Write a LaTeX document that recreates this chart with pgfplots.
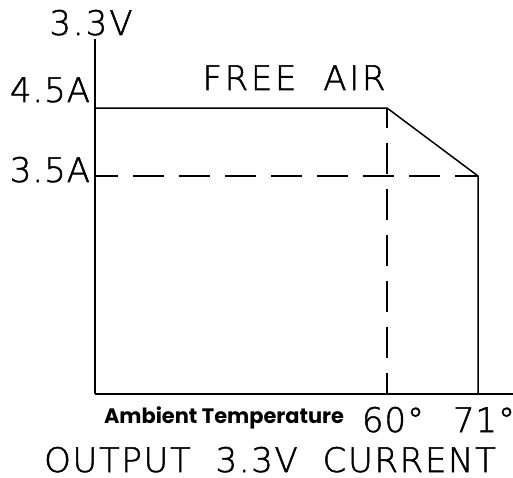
\documentclass[border=0pt]{standalone}
\usepackage{pgfplots}
\pgfplotsset{compat=1.18}
\usepackage{fontspec}
\setmainfont{DejaVu Sans}
\newfontfamily\cad[FakeBold=1.5]{DejaVu Sans ExtraLight}
\newfontfamily\pop{Poppins}
\newcommand\ls[1]{\addfontfeature{LetterSpace=#1}}
\begin{document}
\begin{tikzpicture}[x=1bp,y=1bp]
\path[use as bounding box] (0,0) rectangle (513,-478);
\begin{axis}[
  at={(95bp,-394bp)}, anchor=south west,
  scale only axis, width=418bp, height=355bp,
  xmin=24.703, xmax=75.231, ymin=0.294, ymax=5.515,
  axis x line=bottom, axis y line=left,
  axis line style={-, line width=1.5bp, black},
  xtick=\empty, ytick=\empty,
  clip=false,
]
\addplot[black, line width=1.5bp] coordinates {(24.703,4.5) (60,4.5) (71,3.5) (71,0.294)};
\addplot[black, line width=1.5bp, dash pattern=on 31bp off 15bp, dash phase=8bp] coordinates {(24.703,3.5) (71,3.5)};
\addplot[black, line width=1.5bp, dash pattern=on 31bp off 15bp, dash phase=11bp] coordinates {(60,4.5) (60,0.294)};
\end{axis}
\begin{scope}[every node/.style={inner sep=0pt, outer sep=0pt}]
\node[anchor=base] at (91,-35) {\fontsize{34}{34}\cad\ls{6}3.3V};
\node[anchor=base east] at (90,-102) {\fontsize{34}{34}\cad\ls{3}4.5A};
\node[anchor=base east] at (90,-182) {\fontsize{34}{34}\cad\ls{3}3.5A};
\node[anchor=base] at (294,-90) {\fontsize{34}{34}\cad\ls{8}FREE\ \ AIR};
\node[anchor=base] at (224,-423) {\fontsize{21}{21}\pop\bfseries Ambient Temperature};
\node[anchor=base] at (393,-432) {\fontsize{34}{34}\cad\ls{3}60°};
\node[anchor=base] at (484,-432) {\fontsize{34}{34}\cad\ls{3}71°};
\node[anchor=base] at (270,-472) {\fontsize{34}{34}\cad\ls{5}OUTPUT\ \ 3.3V\ \ CURRENT};
\end{scope}
\end{tikzpicture}
\end{document}
